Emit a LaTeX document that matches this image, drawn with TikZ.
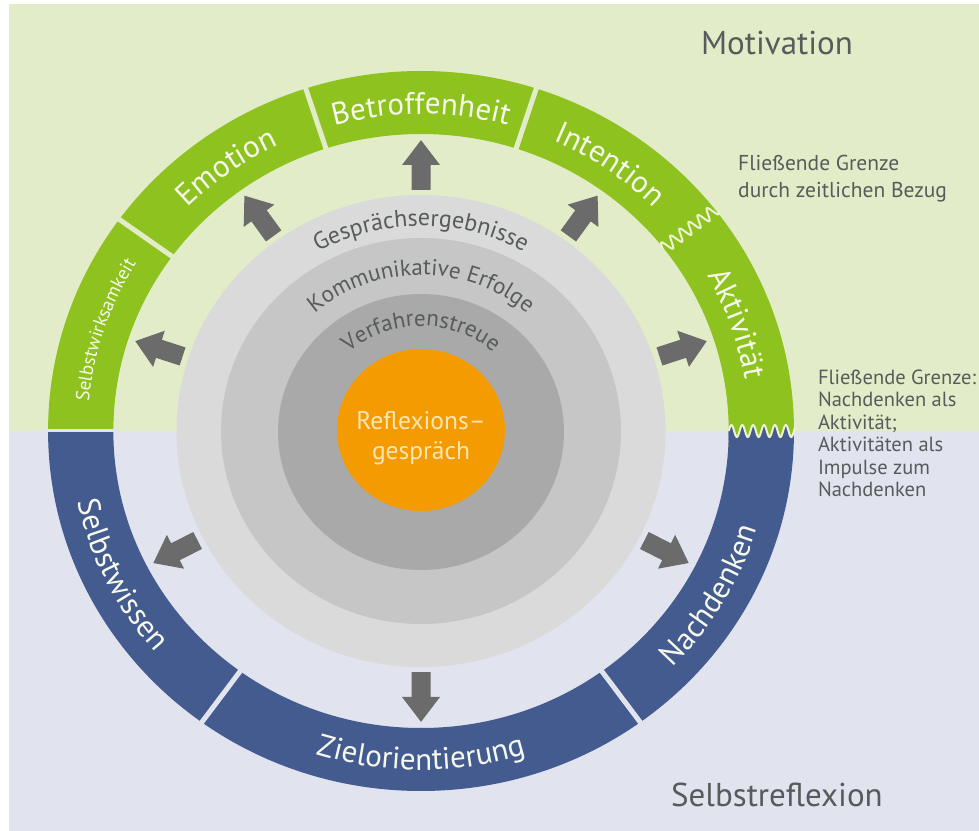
\documentclass[tikz,border=0pt]{standalone}
\usepackage{fontspec}
\setmainfont{PT Sans}
\usepackage{tikz}
\usetikzlibrary{calc}
\usetikzlibrary{decorations.text}

\definecolor{bggreen}{HTML}{E3ECC8}
\definecolor{bgblue}{HTML}{E1E3EE}
\definecolor{ringgreen}{HTML}{8DC21F}
\definecolor{ringblue}{HTML}{435B8F}
\definecolor{graylight}{HTML}{DADADA}
\definecolor{graymid}{HTML}{C6C6C6}
\definecolor{graydark}{HTML}{A9A9A9}
\definecolor{coreorange}{HTML}{F39B00}
\definecolor{arrowgray}{HTML}{6B6B6B}
\definecolor{labelgray}{HTML}{585B5B}
\definecolor{corecream}{HTML}{FDE6B4}
\definecolor{ringtext}{HTML}{F6F9EC}
\definecolor{wavepale}{HTML}{EEF4D2}

\newcommand{\ringfont}{\fontsize{31}{33}\selectfont}
\newcommand{\smallringfont}{\fontsize{19}{21}\selectfont}
\newcommand{\innerfont}{\fontsize{23}{25}\selectfont}

\tikzstyle{ringlabel} = [decorate, decoration={text along path, text align=center, text color=ringtext}]
\tikzstyle{innerlabel} = [decorate, decoration={text along path, text align=center, text color=labelgray}]
\tikzstyle{divider} = [line width=5pt]
\tikzstyle{wave} = [draw=wavepale, line width=2pt]
\tikzstyle{outarrow} = [fill=arrowgray]
\tikzstyle{heading} = [text=labelgray, font=\fontsize{33}{38}\selectfont]
\tikzstyle{note} = [text=labelgray, font=\fontsize{20.5}{22.5}\selectfont, align=left, anchor=north west, inner sep=0pt]

\begin{document}
\begin{tikzpicture}[x=1.036pt, y=1pt]
    \useasboundingbox (-406.4,-400) rectangle (538.6,431);
    \fill[bggreen] (-397.7,0) rectangle (538.6,427);
    \fill[bgblue] (-397.7,-400) rectangle (538.6,0);

    % outer ring
    \fill[ringgreen] (0:297) arc[start angle=0, end angle=180, radius=297] -- (180:360) arc[start angle=180, end angle=0, radius=360] -- cycle;
    \fill[ringblue] (180:297) arc[start angle=180, end angle=360, radius=297] -- (360:360) arc[start angle=360, end angle=180, radius=360] -- cycle;
    \foreach \a in {72,108,144}
        \draw[divider, bggreen] (\a:293) -- (\a:364);
    \foreach \a in {234,306}
        \draw[divider, bgblue] (\a:293) -- (\a:364);
    \draw[divider, bgblue, line width=3pt] (180:293) -- (180:364);

    % wavy borders
    \fill[ringgreen] (297,-10) rectangle (360,10);
    \fill[ringblue] (297,-10) -- plot[domain=297:360, samples=90, smooth] (\x,{6*sin((\x-297)/10.5*360)}) -- (360,-10) -- cycle;
    \draw[wave] plot[domain=297:361, samples=90, smooth] (\x,{6*sin((\x-297)/10.5*360)});
    \draw[wave, rotate=37] plot[domain=292:357, samples=90, smooth] (\x,{6*sin((\x-292)/11*360)});

    % inner discs
    \fill[graylight] (0,0) circle[radius=236];
    \fill[graymid] (0,0) circle[radius=193];
    \fill[graydark] (0,-1) circle[radius=138];
    \fill[coreorange] (0,1) circle[radius=81];

    \foreach \a in {18,54,90,126,162,207,270,333}
        \fill[outarrow, shift={(\a:266)}, rotate=\a] (-24,-9.5) -- (0,-9.5) -- (0,-19) -- (24,0) -- (0,19) -- (0,9.5) -- (-24,9.5) -- cycle;

    % ring labels
    \path[ringlabel, decoration={text={|\smallringfont|Selbstwirksamkeit}}] (212:322) arc[start angle=212, end angle=112, radius=322];
    \path[ringlabel, decoration={text={|\ringfont|Emotion}}] (176:317) arc[start angle=176, end angle=76, radius=317];
    \path[ringlabel, decoration={text={|\ringfont|Betroffenheit}}] (140:317) arc[start angle=140, end angle=40, radius=317];
    \path[ringlabel, decoration={text={|\ringfont|Intention}}] (105:317) arc[start angle=105, end angle=5, radius=317];
    \path[ringlabel, decoration={text={|\ringfont|Aktivität}}] (69:317) arc[start angle=69, end angle=-31, radius=317];
    \path[ringlabel, decoration={text={|\ringfont|Selbstwissen}}] (156:339) arc[start angle=156, end angle=256, radius=339];
    \path[ringlabel, decoration={text={|\ringfont|Zielorientierung}}] (220:339) arc[start angle=220, end angle=320, radius=339];
    \path[ringlabel, decoration={text={|\ringfont|Nachdenken}}] (280:339) arc[start angle=280, end angle=380, radius=339];

    % inner labels
    \path[innerlabel, decoration={text={|\fontsize{24}{26}\selectfont|Gesprächsergebnisse}}] (150:205) arc[start angle=150, end angle=30, radius=205];
    \path[innerlabel, decoration={text={|\innerfont|Kommunikative Erfolge}}] (165:156) arc[start angle=165, end angle=15, radius=156];
    \path[innerlabel, decoration={text={|\innerfont|Verfahrenstreue}}] (170:105) arc[start angle=170, end angle=10, radius=105];

    \node[text=corecream, font=\fontsize{25.5}{30}\selectfont, align=center] (reflexion) at (0,-7) {Reflexions–\\gespräch};

    \node[heading] (motivation) at (343.6,388) {Motivation};
    \node[heading] (selbstreflexion) at (343.6,-364) {Selbstreflexion};
    \node[note, font=\fontsize{21.5}{27}\selectfont] (grenze_zeit) at (306,276) {Fließende Grenze\\durch zeitlichen Bezug};
    \node[note] (grenze_akt) at (383,61.5) {Fließende Grenze:\\Nachdenken als\\Aktivität;\\Aktivitäten als\\Impulse zum\\Nachdenken};
\end{tikzpicture}
\end{document}
